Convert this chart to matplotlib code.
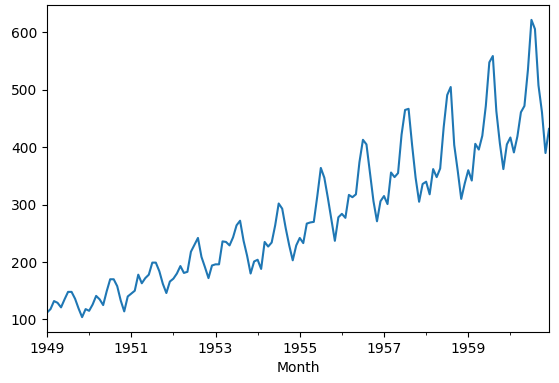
import matplotlib
matplotlib.use("Agg")
import matplotlib.pyplot as plt
import pandas as pd

passengers = [
    112, 118, 132, 129, 121, 135, 148, 148, 136, 119, 104, 118,
    115, 126, 141, 135, 125, 149, 170, 170, 158, 133, 114, 140,
    145, 150, 178, 163, 172, 178, 199, 199, 184, 162, 146, 166,
    171, 180, 193, 181, 183, 218, 230, 242, 209, 191, 172, 194,
    196, 196, 236, 235, 229, 243, 264, 272, 237, 211, 180, 201,
    204, 188, 235, 227, 234, 264, 302, 293, 259, 229, 203, 229,
    242, 233, 267, 269, 270, 315, 364, 347, 312, 274, 237, 278,
    284, 277, 317, 313, 318, 374, 413, 405, 355, 306, 271, 306,
    315, 301, 356, 348, 355, 422, 465, 467, 404, 347, 305, 336,
    340, 318, 362, 348, 363, 435, 491, 505, 404, 359, 310, 337,
    360, 342, 406, 396, 420, 472, 548, 559, 463, 407, 362, 405,
    417, 391, 419, 461, 472, 535, 622, 606, 508, 461, 390, 432,
]
months = pd.date_range("1949-01-01", periods=len(passengers), freq="MS")
series = pd.Series(passengers, index=pd.Index(months, name="Month"))

fig = plt.figure(figsize=(5.59, 3.83), dpi=100)
ax = fig.add_axes([47 / 559, 1 - 332 / 383, (549 - 47) / 559, (332 - 5) / 383])
series.plot(ax=ax, color="#1f77b4", linewidth=1.5)
ax.set_xlabel("Month")
fig.savefig("out.png", dpi=100)
